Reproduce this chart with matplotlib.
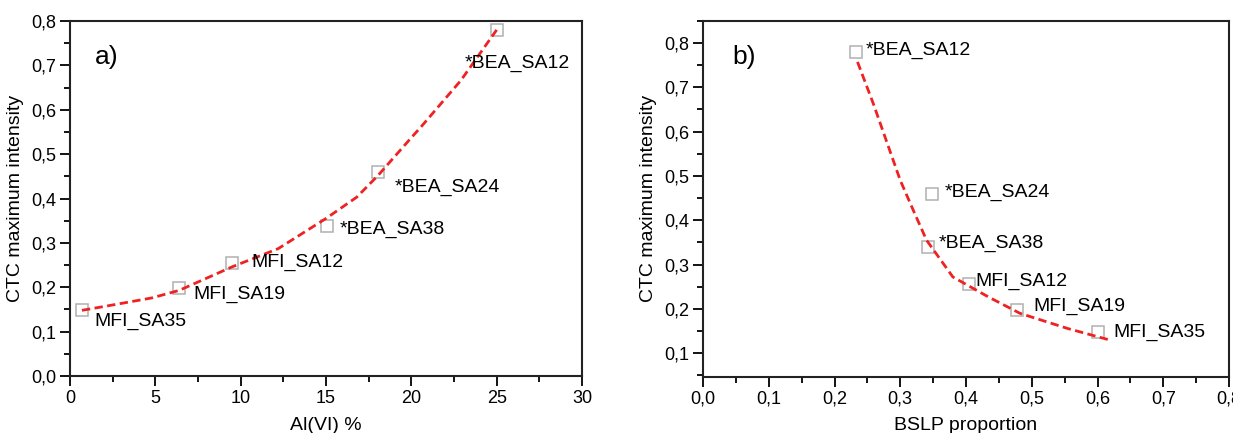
import matplotlib.pyplot as plt
from matplotlib.ticker import MultipleLocator, FuncFormatter
import numpy as np

plt.rcParams['font.family'] = ['Liberation Sans', 'DejaVu Sans']

samples = ['MFI_SA35', 'MFI_SA19', 'MFI_SA12', '*BEA_SA38', '*BEA_SA24', '*BEA_SA12']
ctc = [0.148, 0.198, 0.255, 0.339, 0.459, 0.780]

# panel a
alvi = [0.7, 6.4, 9.5, 15.05, 18.05, 25.0]
fit_a_x = [0.7, 2.2, 4.8, 6.4, 9.5, 12.2, 15.0, 16.8, 18.05, 19.95, 20.65, 22.9, 25.0]
fit_a_y = [0.148, 0.158, 0.176, 0.193, 0.246, 0.287, 0.355, 0.403, 0.452, 0.535, 0.565, 0.666, 0.78]
lab_a_x = [1.45, 7.2, 10.6, 15.8, 19.0, 23.1]
lab_a_y = [0.122, 0.183, 0.255, 0.330, 0.426, 0.704]

# panel b
bslp = [0.601, 0.478, 0.404, 0.342, 0.348, 0.233]
fit_b_x = [0.235, 0.259, 0.300, 0.322, 0.340, 0.380, 0.434, 0.482, 0.554, 0.618]
fit_b_y = [0.757, 0.663, 0.490, 0.415, 0.355, 0.272, 0.227, 0.190, 0.156, 0.130]
lab_b_x = [0.624, 0.502, 0.414, 0.359, 0.368, 0.248]
lab_b_y = [0.147, 0.205, 0.261, 0.348, 0.462, 0.782]

comma = FuncFormatter(lambda v, p: ('%.1f' % v).replace('.', ','))
intfmt = FuncFormatter(lambda v, p: '%d' % v)

fig = plt.figure(figsize=(12.33, 4.33), dpi=100)
ax1 = fig.add_axes([70/1233, 1-376/433, 512/1233, 355/433])
ax2 = fig.add_axes([703/1233, 1-376.7/433, 526/1233, 356/433])


def style(ax):
	for s in ax.spines.values():
		s.set_linewidth(1.5)
		s.set_color('#222222')
	ax.tick_params(which='major', direction='out', length=7, width=1.3, labelsize=13, pad=3)
	ax.tick_params(which='minor', direction='out', length=4, width=1.3)
	ax.tick_params(top=False, right=False)
	ax.set_ylabel('CTC maximum intensity', fontsize=14, labelpad=5)


ax1.plot(fit_a_x, fit_a_y, '--', color='#ee2222', lw=2, dashes=(3, 1.6), zorder=3)
ax1.plot(alvi, ctc, 's', mfc='none', mec='#b0b0b0', ms=9, mew=1.1, zorder=2)
for t, x, y in zip(samples, lab_a_x, lab_a_y):
	ax1.text(x, y, t, fontsize=14, va='center', ha='left')
ax1.text(0.049, 0.898, 'a)', transform=ax1.transAxes, fontsize=19, va='center')
ax1.set_xlim(0, 30)
ax1.set_ylim(0, 0.8)
ax1.xaxis.set_major_locator(MultipleLocator(5))
ax1.xaxis.set_minor_locator(MultipleLocator(2.5))
ax1.yaxis.set_major_locator(MultipleLocator(0.1))
ax1.yaxis.set_minor_locator(MultipleLocator(0.05))
ax1.xaxis.set_major_formatter(intfmt)
ax1.yaxis.set_major_formatter(comma)
ax1.set_xlabel('Al(VI) %', fontsize=14, labelpad=7)
style(ax1)

ax2.plot(fit_b_x, fit_b_y, '--', color='#ee2222', lw=2, dashes=(3, 1.6), zorder=3)
ax2.plot(bslp, ctc, 's', mfc='none', mec='#b0b0b0', ms=9, mew=1.1, zorder=2)
for t, x, y in zip(samples, lab_b_x, lab_b_y):
	ax2.text(x, y, t, fontsize=14, va='center', ha='left')
ax2.text(0.055, 0.898, 'b)', transform=ax2.transAxes, fontsize=19, va='center')
ax2.set_xlim(0, 0.8)
ax2.set_ylim(0.047, 0.85)
ax2.xaxis.set_major_locator(MultipleLocator(0.1))
ax2.xaxis.set_minor_locator(MultipleLocator(0.05))
ax2.yaxis.set_major_locator(MultipleLocator(0.1))
ax2.yaxis.set_minor_locator(MultipleLocator(0.05))
ax2.set_yticks(np.arange(0.1, 0.81, 0.1))
ax2.xaxis.set_major_formatter(comma)
ax2.yaxis.set_major_formatter(comma)
ax2.set_xlabel('BSLP proportion', fontsize=14, labelpad=7)
style(ax2)

plt.savefig('out.png', dpi=100)
